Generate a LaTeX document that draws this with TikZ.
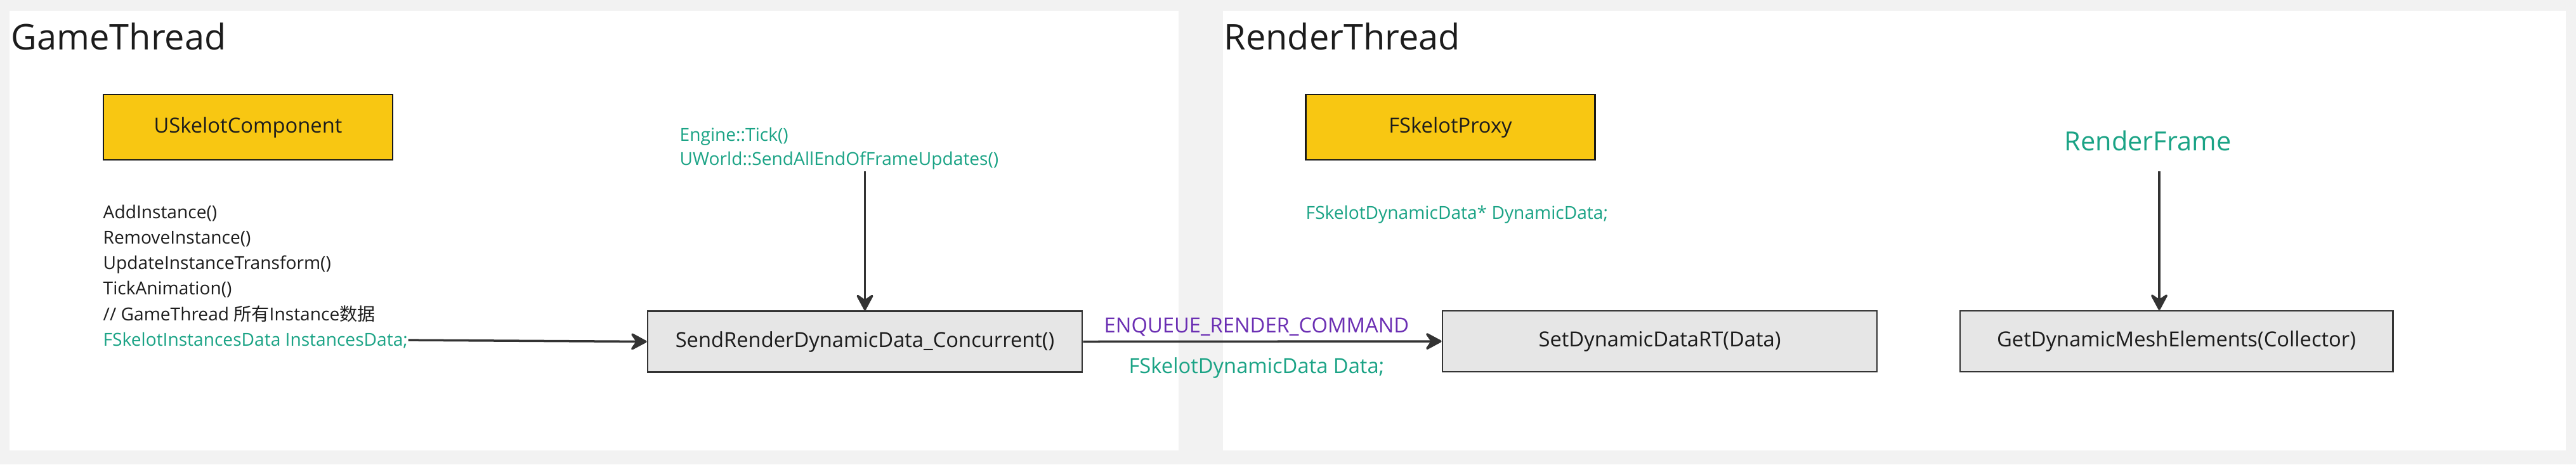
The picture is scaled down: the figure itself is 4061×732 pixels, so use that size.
\documentclass[tikz,border=0pt]{standalone}
\usepackage{fontspec}
\setmainfont{Open Sans}
\newfontfamily\cjk{Noto Sans CJK SC}
\usetikzlibrary{positioning,arrows.meta}
\definecolor{pagegray}{HTML}{F2F2F2}
\definecolor{classyellow}{HTML}{F8C712}
\definecolor{callgray}{HTML}{E6E6E6}
\definecolor{codegreen}{HTML}{1AA385}
\definecolor{cmdpurple}{HTML}{6B2FB3}
\definecolor{inkdark}{HTML}{333333}
\definecolor{textdark}{HTML}{1C1C1C}
\tikzset{
  flowarrow/.style={-{Stealth[length=0.30cm, width=0.32cm, inset=0.11cm, round]}, line width=0.035cm, draw=inkdark},
  panelbox/.style={fill=white, draw=none},
  threadtitle/.style={inner sep=0pt, anchor=base west, text=textdark, font=\fontsize{15.9}{19}\selectfont},
  classbox/.style={draw=black!90, line width=0.025cm, fill=classyellow, text=textdark, minimum width=4.56cm, minimum height=1.03cm, font=\fontsize{9.3}{11}\selectfont},
  callbox/.style={draw=inkdark, line width=0.025cm, fill=callgray, text=textdark, minimum width=6.85cm, minimum height=0.96cm, font=\fontsize{9.3}{11}\selectfont},
  codetext/.style={inner sep=0pt, anchor=base west, align=left, text=textdark, font=\fontsize{8}{11.4}\selectfont},
  greentext/.style={codetext, text=codegreen},
  cmdtext/.style={inner sep=0pt, anchor=base, text=cmdpurple, font=\fontsize{9.3}{11}\selectfont}
}

\begin{document}
\begin{tikzpicture}[x=0.01cm, y=-0.01cm]
  % page and the two thread panels
  \fill[pagegray] (0,0) rectangle (4061,732);
  \fill[panelbox] (15,17) rectangle (1858,710);
  \fill[panelbox] (1928,17) rectangle (4045,710);
  \node[threadtitle] (gt) at (17,78) {GameThread};
  \node[threadtitle] (rt) at (1929,78) {RenderThread};

  % game thread side
  \node[classbox] (comp) at (391,200.5) {USkelotComponent};
  \node[codetext] (api) at (162,505) {AddInstance()\\RemoveInstance()\\UpdateInstanceTransform()\\TickAnimation()\\// GameThread {\cjk 所有}Instance{\cjk 数据}};
  \node[greentext] (gdata) at (162,545) {FSkelotInstancesData InstancesData;};
  \node[greentext, font=\fontsize{8}{10.8}\selectfont] (tick) at (1071,260) {Engine::Tick()\\UWorld::SendAllEndOfFrameUpdates()};
  \coordinate (tickdrop) at (1363.5,270);
  \node[callbox] (sr) at (1363.5,538.5) {SendRenderDynamicData\_Concurrent()};

  % render thread side
  \node[classbox] (proxy) at (2286.5,200.5) {FSkelotProxy};
  \node[greentext] (pdata) at (2058,345) {FSkelotDynamicData* DynamicData;};
  \node[callbox] (sd) at (2616.5,538) {SetDynamicDataRT(Data)};
  \node[callbox, minimum width=6.82cm] (gdm) at (3431,538) {GetDynamicMeshElements(Collector)};
  \node[inner sep=0pt, anchor=base, text=codegreen, font=\fontsize{11.8}{14}\selectfont] (rf) at (3386,237) {RenderFrame};
  \coordinate (rfdrop) at (3404,270);

  % connectors
  \draw[flowarrow] (gdata.east) -- (sr.west);
  \draw[flowarrow] (tickdrop) -- (sr.north);
  \draw[flowarrow] (sr.east) -- (sd.west);
  \draw[flowarrow] (rfdrop) -- (rfdrop |- gdm.north);
  \node[cmdtext] (enq) at (1981,524) {ENQUEUE\_RENDER\_COMMAND};
  \node[greentext, anchor=base, font=\fontsize{9.3}{11}\selectfont] (ddata) at (1981,588) {FSkelotDynamicData Data;};
\end{tikzpicture}
\end{document}
